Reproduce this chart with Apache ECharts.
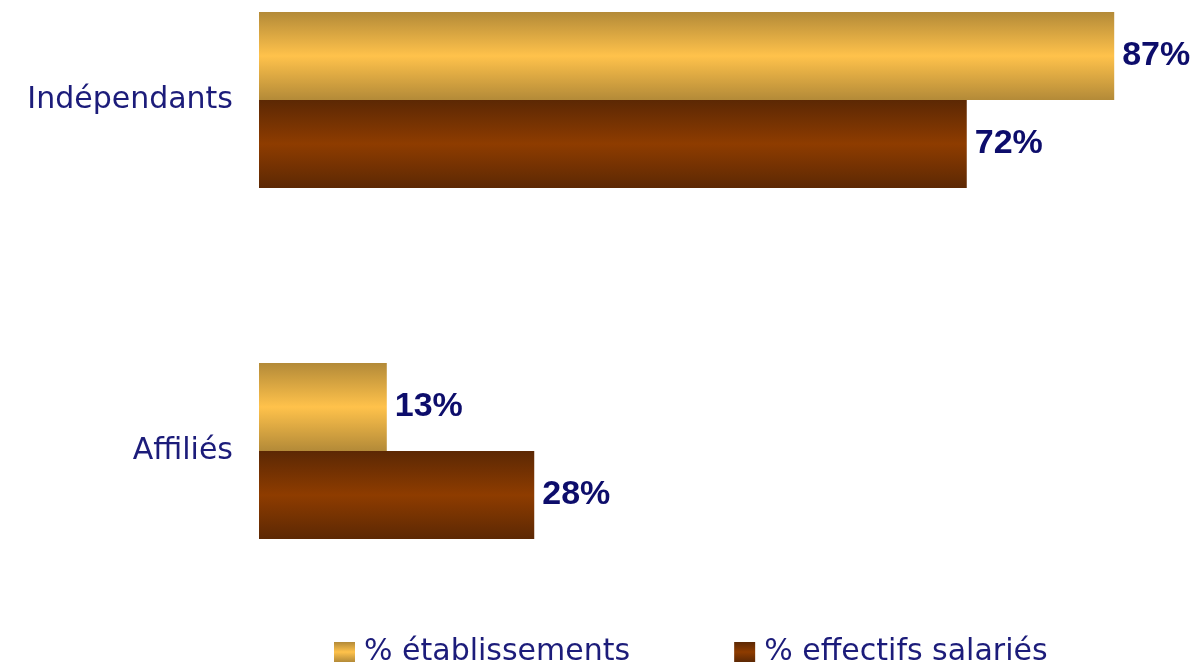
<!DOCTYPE html>
<html>
<head>
<meta charset="utf-8">
<script src="https://cdn.jsdelivr.net/npm/echarts@6/dist/echarts.min.js"></script>
<style>html,body{margin:0;padding:0;background:#fff}#c{width:1198px;height:666px}</style>
</head>
<body>
<div id="c"></div>
<script>
const categories = ['Indépendants', 'Affiliés'];
const seriesNames = ['% établissements', '% effectifs salariés'];
const etablissements = [87, 13];
const effectifs = [72, 28];

const goldGrad = new echarts.graphic.LinearGradient(0, 0, 0, 1, [
  {offset: 0, color: '#b38a38'},
  {offset: 0.5, color: '#ffc24b'},
  {offset: 1, color: '#b38a38'}
]);
const brownGrad = new echarts.graphic.LinearGradient(0, 0, 0, 1, [
  {offset: 0, color: '#5c2804'},
  {offset: 0.5, color: '#8e3c00'},
  {offset: 1, color: '#5c2804'}
]);
const labelStyle = {
  show: true, position: 'right', distance: 8,
  formatter: '{c}%', fontSize: 34, fontWeight: 'bold',
  color: '#0d0d6b', fontFamily: 'Liberation Sans, Arial, sans-serif'
};

const chart = echarts.init(document.getElementById('c'));
chart.setOption({
  animation: false,
  grid: {left: 259, top: -75.5, height: 702, width: 983, outerBoundsMode: 'none', containLabel: false},
  xAxis: {type: 'value', min: 0, max: 100, show: false},
  yAxis: {
    type: 'category', data: categories, inverse: true,
    axisLine: {show: false}, axisTick: {show: false},
    axisLabel: {fontSize: 30, color: '#1c1c7a', margin: 26, fontFamily: 'DejaVu Sans, sans-serif'}
  },
  legend: {
    top: 632, left: 329, itemWidth: 21, itemHeight: 20, itemGap: 104, icon: 'rect',
    textStyle: {fontSize: 30, color: '#1c1c7a', fontFamily: 'DejaVu Sans, sans-serif', padding: [0, 0, 0, 4]},
    data: seriesNames
  },
  series: [
    {name: seriesNames[0], type: 'bar', data: etablissements, barGap: '0%', barCategoryGap: '49.8%',
     itemStyle: {color: goldGrad}, label: labelStyle},
    {name: seriesNames[1], type: 'bar', data: effectifs,
     itemStyle: {color: brownGrad}, label: labelStyle}
  ]
});
</script>
</body>
</html>
